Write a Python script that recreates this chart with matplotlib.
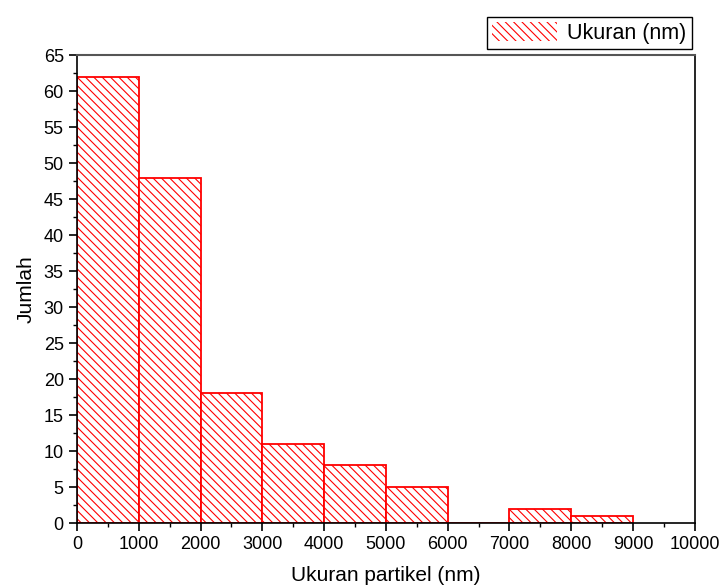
import matplotlib.pyplot as plt
from matplotlib.ticker import MultipleLocator
from matplotlib.patches import Patch

plt.rcParams['font.family'] = ['Liberation Sans', 'DejaVu Sans']
plt.rcParams['hatch.color'] = '#ff4040'
plt.rcParams['hatch.linewidth'] = 0.8

bin_edges = [0, 1000, 2000, 3000, 4000, 5000, 6000, 7000, 8000, 9000]
counts = [62, 48, 18, 11, 8, 5, 0, 2, 1]

fig = plt.figure(figsize=(7.23, 5.87), dpi=100)
ax = fig.add_axes([0.1065, 0.109, 0.8545, 0.797])

ax.bar(bin_edges[:-1], counts, width=1000, align='edge', color='white',
       edgecolor='red', linewidth=1.3, hatch='\\\\\\\\')

ax.set_xlim(0, 10000)
ax.set_ylim(0, 65)
ax.xaxis.set_major_locator(MultipleLocator(1000))
ax.xaxis.set_minor_locator(MultipleLocator(500))
ax.yaxis.set_major_locator(MultipleLocator(5))
ax.yaxis.set_minor_locator(MultipleLocator(2.5))
ax.tick_params(which='major', direction='out', length=6, width=1.2, labelsize=13)
ax.tick_params(which='minor', direction='out', length=3, width=1.0)
ax.spines['top'].set_color('#555555')
ax.spines['top'].set_linewidth(1.5)
for s in ['left', 'bottom', 'right']:
    ax.spines[s].set_linewidth(1.2)

ax.set_xlabel('Ukuran partikel (nm)', fontsize=15, labelpad=9)
ax.set_ylabel('Jumlah', fontsize=15, labelpad=6)

leg_handle = Patch(facecolor='white', edgecolor='red', hatch='\\\\\\\\', linewidth=0)
leg = fig.legend([leg_handle], ['Ukuran (nm)'], loc='upper right',
                 bbox_to_anchor=(0.972, 0.99), fontsize=15.5, fancybox=False,
                 framealpha=1, edgecolor='black', handlelength=3.0,
                 handleheight=1.0, borderpad=0.25, handletextpad=0.5)
leg.get_frame().set_linewidth(1.0)

fig.savefig('out.png', dpi=100)
